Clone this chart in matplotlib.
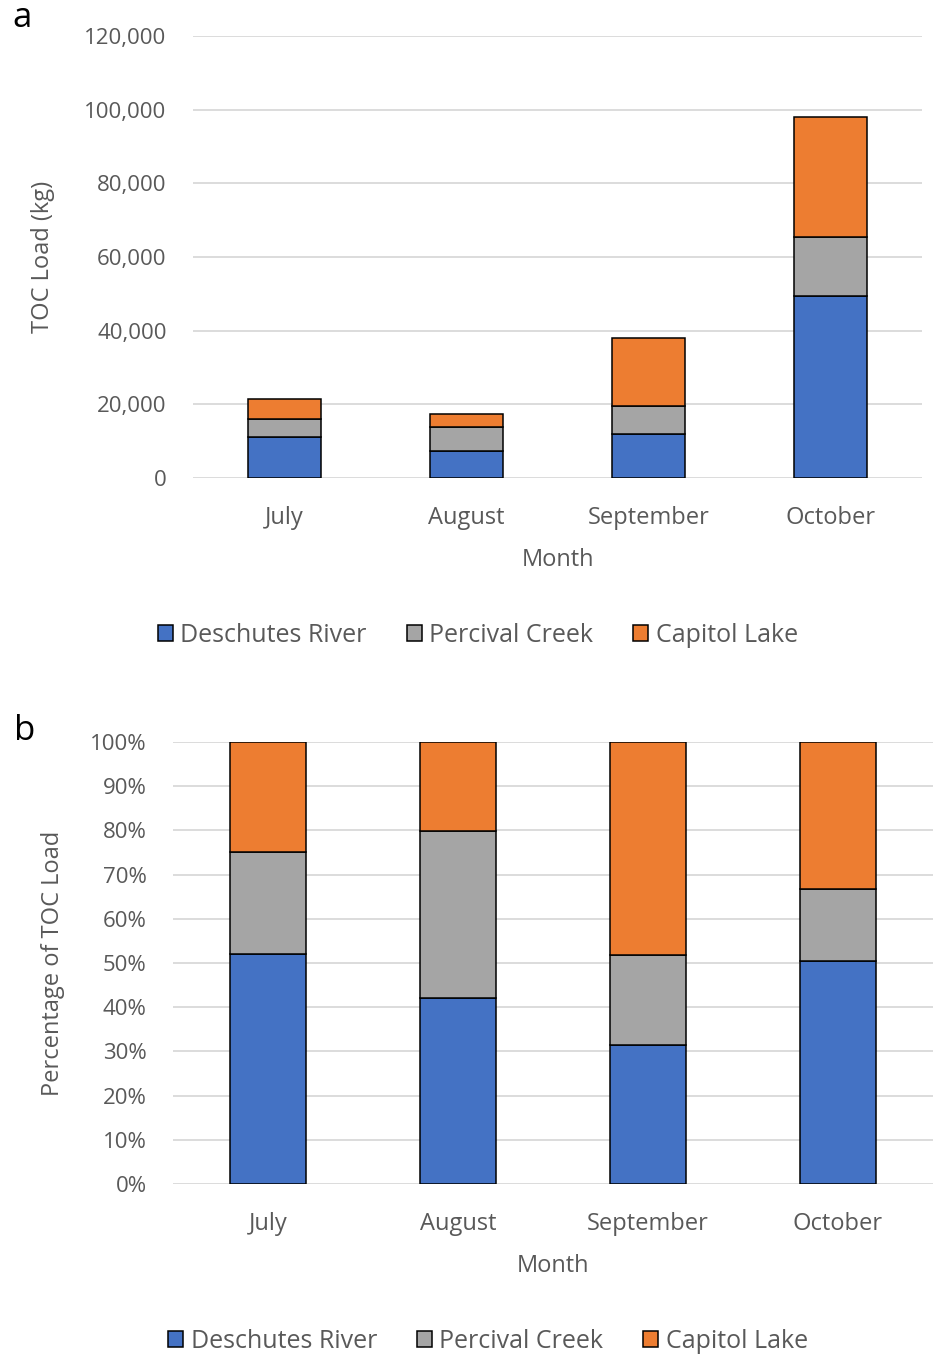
import matplotlib.pyplot as plt
from matplotlib.ticker import FuncFormatter
import numpy as np

months = ['July', 'August', 'September', 'October']
sources = ['Deschutes River', 'Percival Creek', 'Capitol Lake']
colors = ['#4472c4', '#a5a5a5', '#ed7d31']

# TOC load in kg per month
deschutes = [11150, 7360, 11970, 49470]
percival = [4920, 6580, 7710, 15970]
capitol = [5330, 3510, 18320, 32520]

loads = np.array([deschutes, percival, capitol], dtype=float)
percents = loads / loads.sum(axis=0) * 100

W, H = 938, 1356
plt.rcParams['font.family'] = ['Open Sans', 'DejaVu Sans']
text_color = '#595959'
grid_color = '#d9d9d9'
fs = 17

fig = plt.figure(figsize=(W / 100, H / 100), dpi=100)


def px_axes(left, top, right, bottom):
    return fig.add_axes([left / W, 1 - bottom / H, (right - left) / W, (bottom - top) / H])


def style_axes(ax):
    for s in ax.spines.values():
        s.set_visible(False)
    ax.tick_params(axis='both', length=0, colors=text_color, labelsize=16)
    ax.tick_params(axis='y', pad=19)
    ax.tick_params(axis='x', pad=20)
    ax.set_axisbelow(True)
    ax.yaxis.grid(True, color=grid_color, linewidth=1.3)
    ax.set_xlim(-0.5, len(months) - 0.5)


def stacked(ax, data):
    x = np.arange(len(months))
    bottom = np.zeros(len(months))
    handles = []
    for vals, name, c in zip(data, sources, colors):
        b = ax.bar(x, vals, 0.4, bottom=bottom, color=c, edgecolor='black',
                   linewidth=1.1, label=name)
        handles.append(b)
        bottom += vals
    ax.set_xticks(x)
    ax.set_xticklabels(months, fontsize=fs)
    return handles


def add_legend(handles, cx, cy):
    fig.legend(handles, sources, loc='center', bbox_to_anchor=(cx / W, 1 - cy / H), ncol=3,
               frameon=False, fontsize=18, labelcolor=text_color, handlelength=0.6,
               handleheight=0.6, handletextpad=0.3, columnspacing=1.6)


# panel a
ax1 = px_axes(193, 36, 922, 478)
style_axes(ax1)
h = stacked(ax1, loads)
ax1.set_ylim(0, 120000)
ax1.set_yticks(np.arange(0, 120001, 20000))
ax1.yaxis.set_major_formatter(FuncFormatter(lambda v, p: f'{int(v):,}'))
fig.text(43 / W, 1 - 257 / H, 'TOC Load (kg)', rotation=90, ha='center', va='center',
         fontsize=fs, color=text_color)
fig.text(558 / W, 1 - 560 / H, 'Month', ha='center', va='center', fontsize=fs, color=text_color)
fig.text(22 / W, 1 - 18 / H, 'a', ha='center', va='center', fontsize=25, color='black')
add_legend(h, 478, 635)

# panel b
ax2 = px_axes(173, 742, 933, 1184)
style_axes(ax2)
h = stacked(ax2, percents)
ax2.set_ylim(0, 100)
ax2.set_yticks(np.arange(0, 101, 10))
ax2.yaxis.set_major_formatter(FuncFormatter(lambda v, p: f'{int(v)}%'))
fig.text(53 / W, 1 - 963 / H, 'Percentage of TOC Load', rotation=90, ha='center', va='center',
         fontsize=fs, color=text_color)
fig.text(553 / W, 1 - 1266 / H, 'Month', ha='center', va='center', fontsize=fs, color=text_color)
fig.text(25 / W, 1 - 731 / H, 'b', ha='center', va='center', fontsize=25, color='black')
add_legend(h, 488, 1341)

fig.savefig('out.png', dpi=100)
